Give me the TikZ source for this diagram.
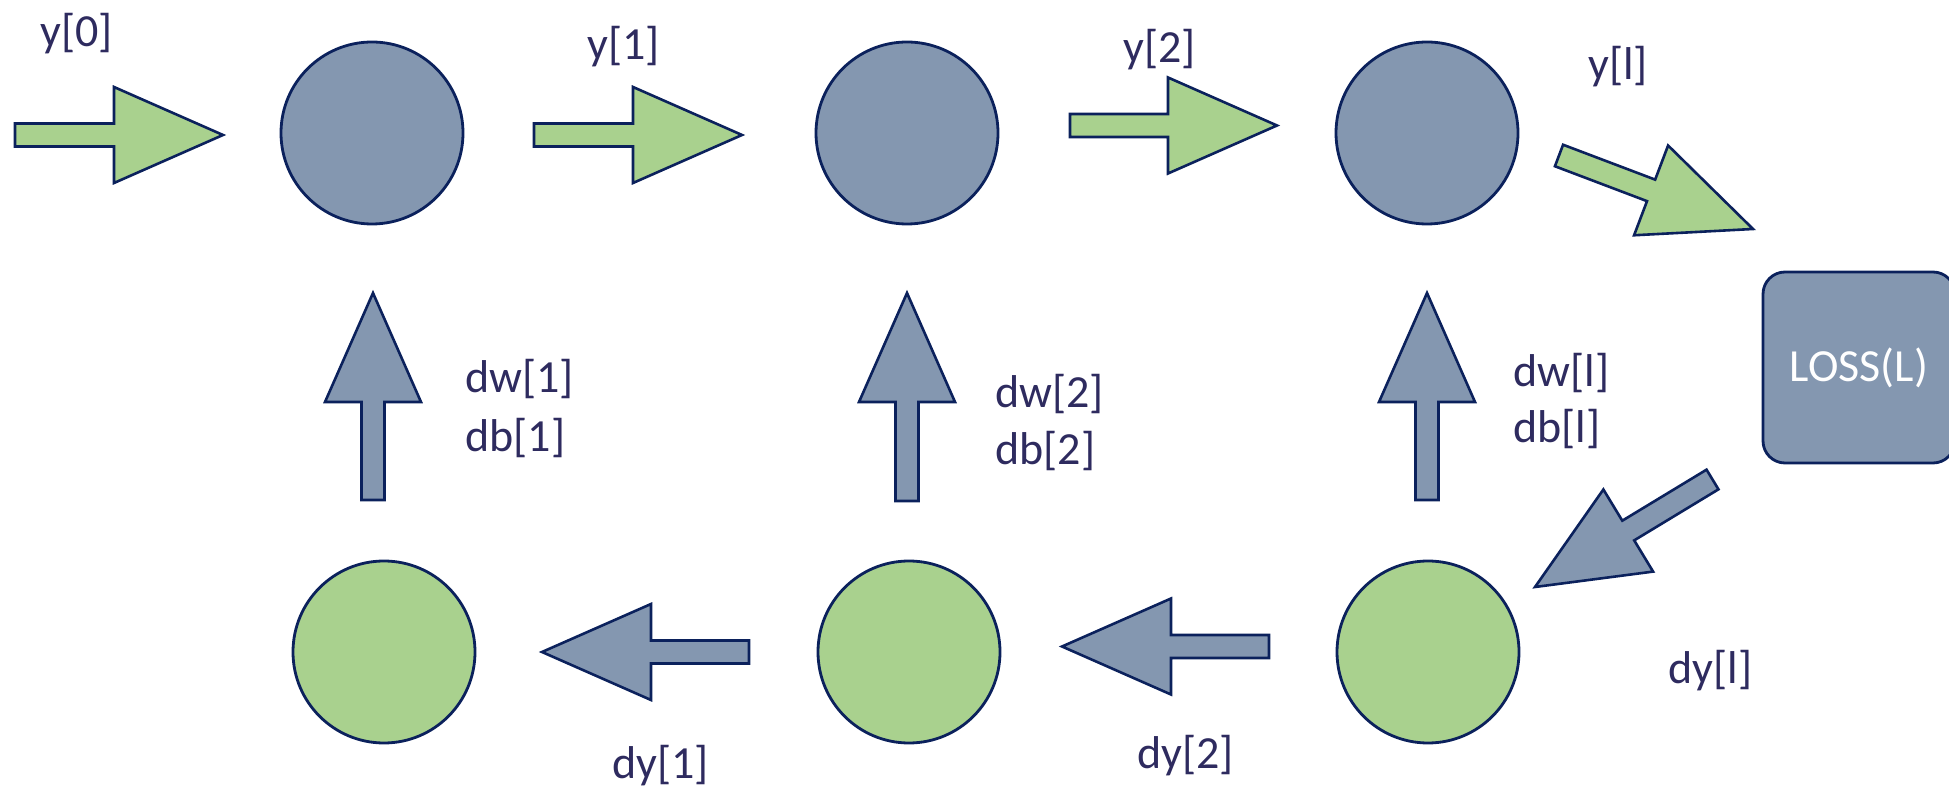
\documentclass[tikz,border=0pt]{standalone}
\usepackage{fontspec}
\setmainfont{Carlito}
\usetikzlibrary{calc}

\definecolor{edgeblue}{HTML}{0B215C}
\definecolor{fwdgreen}{HTML}{A9D18E}
\definecolor{bwdblue}{HTML}{8497B0}
\definecolor{labelink}{HTML}{2E2B5F}

% block arrow from a tail coordinate to a tip coordinate
\newcommand\blockarrow[3][]{%
  \path (#2) coordinate (ba-t) (#3) coordinate (ba-e);
  \coordinate (ba-h) at ($(ba-e)!54.5pt!(ba-t)$);
  \draw[#1] ($(ba-t)!5.75pt!90:(ba-e)$) -- ($(ba-h)!5.75pt!90:(ba-e)$)
    -- ($(ba-h)!24pt!90:(ba-e)$) -- (ba-e) -- ($(ba-h)!24pt!-90:(ba-e)$)
    -- ($(ba-h)!5.75pt!-90:(ba-e)$) -- ($(ba-t)!5.75pt!-90:(ba-e)$) -- cycle;}

\tikzset{
  unit/.style={circle, draw=edgeblue, line width=1.4pt, minimum size=91pt, inner sep=0pt},
  fwdunit/.style={unit, fill=bwdblue},
  bwdunit/.style={unit, fill=fwdgreen},
  fwdarrow/.style={draw=edgeblue, line width=1.3pt, fill=fwdgreen, line join=miter},
  bwdarrow/.style={draw=edgeblue, line width=1.3pt, fill=bwdblue, line join=miter},
  lbl/.style={text=labelink, font=\fontsize{23}{30}\selectfont, inner sep=0pt, anchor=base west},
  lossbox/.style={draw=edgeblue, line width=1.4pt, fill=bwdblue, rounded corners=11pt,
    minimum width=96pt, minimum height=95.5pt, inner sep=0pt, text=white,
    font=\fontsize{23}{30}\selectfont}
}

\begin{document}
\begin{tikzpicture}[x=0.5pt, y=-0.5pt]
  \useasboundingbox (0,0) rectangle (1949,790);

  % forward units
  \node[fwdunit] (f1) at (372,133) {};
  \node[fwdunit] (f2) at (907,133) {};
  \node[fwdunit] (f3) at (1427,133) {};

  % backward units
  \node[bwdunit] (b1) at (384,652) {};
  \node[bwdunit] (b2) at (909,652) {};
  \node[bwdunit] (b3) at (1428,652) {};

  % loss
  \node[lossbox] (loss) at (1859,367.5) {LOSS(L)};

  % forward arrows
  \coordinate (a0t) at (15,135);    \coordinate (a0e) at (223,135);
  \coordinate (a1t) at (534,135);   \coordinate (a1e) at (742,135);
  \coordinate (a2t) at (1070,125.5);\coordinate (a2e) at (1277,125.5);
  \coordinate (a3t) at (1559,155.5);\coordinate (a3e) at (1753,229);
  \blockarrow[fwdarrow]{a0t}{a0e}
  \blockarrow[fwdarrow]{a1t}{a1e}
  \blockarrow[fwdarrow]{a2t}{a2e}
  \blockarrow[fwdarrow]{a3t}{a3e}

  % gradient arrows up to the forward units
  \coordinate (u1t) at (373,500);   \coordinate (u1e) at (373,293);
  \coordinate (u2t) at (907,501);   \coordinate (u2e) at (907,293);
  \coordinate (u3t) at (1427,500);  \coordinate (u3e) at (1427,293);
  \blockarrow[bwdarrow]{u1t}{u1e}
  \blockarrow[bwdarrow]{u2t}{u2e}
  \blockarrow[bwdarrow]{u3t}{u3e}

  % backward arrows
  \coordinate (d0t) at (1712.5,479.5); \coordinate (d0e) at (1535,587);
  \coordinate (d1t) at (1269,646.5);   \coordinate (d1e) at (1062,646.5);
  \coordinate (d2t) at (749,652);      \coordinate (d2e) at (542,652);
  \blockarrow[bwdarrow]{d0t}{d0e}
  \blockarrow[bwdarrow]{d1t}{d1e}
  \blockarrow[bwdarrow]{d2t}{d2e}

  % labels
  \node[lbl] (ly0) at (40,47) {y[0]};
  \node[lbl] (ly1) at (587,60) {y[1]};
  \node[lbl] (ly2) at (1123,63) {y[2]};
  \node[lbl] (lyl) at (1588,80) {y[l]};

  \node[lbl] (ldw1) at (465,393) {dw[1]};
  \node[lbl] (ldb1) at (465,452) {db[1]};
  \node[lbl] (ldw2) at (995,408) {dw[2]};
  \node[lbl] (ldb2) at (995,465) {db[2]};
  \node[lbl] (ldwl) at (1513,387) {dw[l]};
  \node[lbl] (ldbl) at (1513,443) {db[l]};

  \node[lbl] (ldy1) at (612,778) {dy[1]};
  \node[lbl] (ldy2) at (1137,768) {dy[2]};
  \node[lbl] (ldyl) at (1668,683) {dy[l]};
\end{tikzpicture}
\end{document}
